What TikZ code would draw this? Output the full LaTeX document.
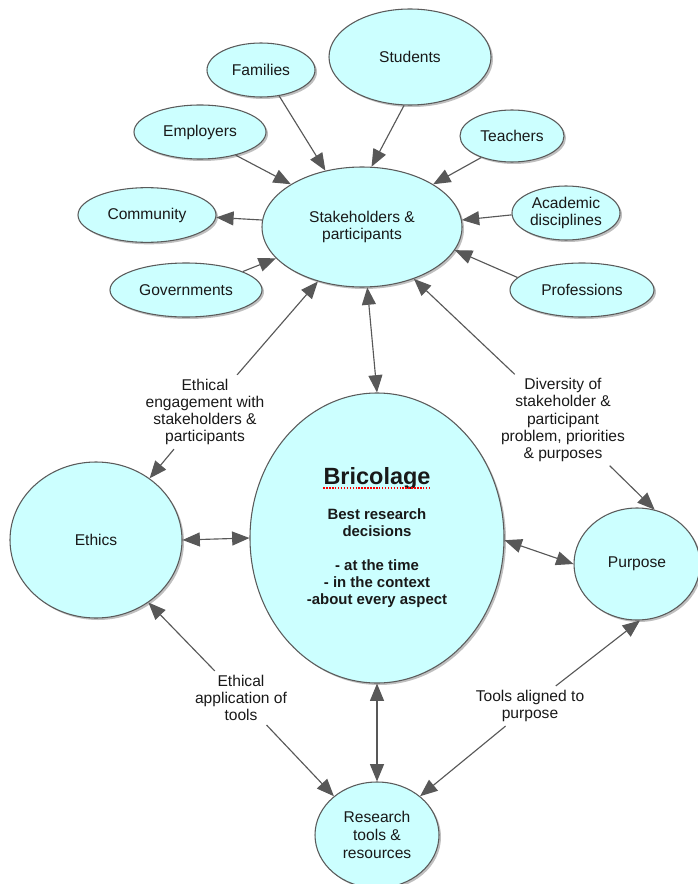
\documentclass[tikz,border=0pt]{standalone}
\usepackage{fontspec}
\setmainfont{Liberation Sans}
\usetikzlibrary{shapes.geometric,arrows.meta,shadows}
\definecolor{conceptfill}{RGB}{204,255,255}
\definecolor{conceptline}{RGB}{90,90,90}
\definecolor{linkcol}{RGB}{88,88,88}
\definecolor{txt}{RGB}{25,25,25}
\begin{document}
\begin{tikzpicture}[x=0.75pt,y=-0.75pt,
  concept/.style={ellipse, draw=conceptline, line width=0.8pt, fill=conceptfill,
    inner sep=0pt, align=center, text=txt, font=\fontsize{11.7}{13.4}\selectfont,
    drop shadow={shadow xshift=1.5pt, shadow yshift=-1.5pt, opacity=0.25, fill=black}},
  linklabel/.style={align=center, inner sep=3pt, text=txt, font=\fontsize{11.7}{12.8}\selectfont},
  conn/.style={draw=linkcol, line width=0.85pt, -{Triangle[length=13pt,width=10.5pt]}},
  conntwo/.style={draw=linkcol, line width=0.85pt, {Triangle[length=13pt,width=10.5pt]}-{Triangle[length=13pt,width=10.5pt]}}
]
\useasboundingbox (0,0) rectangle (698,884);

% concepts
\node[concept, minimum width=121.5pt, minimum height=72pt] (stu) at (410,57) {Students};
\node[concept, minimum width=81pt, minimum height=40.5pt] (fam) at (261,70) {Families};
\node[concept, minimum width=99pt, minimum height=40.5pt] (emp) at (200,132) {Employers};
\node[concept, minimum width=78pt, minimum height=39pt] (tea) at (512,136) {Teachers};
\node[concept, minimum width=103.5pt, minimum height=41pt] (com) at (147,215) {Community};
\node[concept, minimum width=150pt, minimum height=90pt] (stk) at (362,227) {Stakeholders \&\\participants};
\node[concept, minimum width=81pt, minimum height=40.5pt] (aca) at (566,213) {Academic\\disciplines};
\node[concept, minimum width=114pt, minimum height=40.5pt] (gov) at (186,290) {Governments};
\node[concept, minimum width=108pt, minimum height=40.5pt] (pro) at (582,290) {Professions};
\node[concept, minimum width=129pt, minimum height=117pt] (eth) at (96,540) {Ethics};
\node[concept, minimum width=190.5pt, minimum height=217.5pt] (bri) at (377,538) {};
\node[concept, minimum width=94.5pt, minimum height=84pt] (pur) at (637,564) {Purpose};
\node[concept, minimum width=93pt, minimum height=79.5pt] (res) at (377,835) {Research\\tools \&\\resources};

% Bricolage text
\node[inner sep=0pt, text=txt, font=\fontsize{17.6}{20}\selectfont\bfseries] (britxt) at (377,478) {Bricolage};
\draw[red, line width=1.4pt, dash pattern=on 1.1pt off 1.1pt]
  ([yshift=-3.2pt]britxt.base west) -- ([yshift=-3.2pt]britxt.base east);
\node[inner sep=0pt, align=center, text=txt, font=\fontsize{11.2}{12.75}\selectfont\bfseries] (bribody) at (377,558)
  {Best research\\decisions\\[12.75pt]- at the time\\- in the context\\-about every aspect};

% linking phrases
\node[linklabel] (lab1) at (205,412) {Ethical\\engagement with\\stakeholders \&\\participants};
\node[linklabel] (lab2) at (563,420) {Diversity of\\stakeholder \&\\participant\\problem, priorities\\\& purposes};
\node[linklabel] (lab3) at (241,698) {Ethical\\application of\\tools};
\node[linklabel] (lab4) at (530,706) {Tools aligned to\\purpose};

% connectors around stakeholders
\draw[conn] (fam.-55) -- (stk.123);
\draw[conn] (stu.-97) -- (stk.81);
\draw[conn] (emp.-33) -- (stk.149);
\draw[conn] (tea.215) -- (stk.31.5);
\draw[conn] (stk.176) -- (com.-2);
\draw[conn] (aca.182) -- (stk.4);
\draw[conn] (gov.18) -- (stk.200);
\draw[conn] (pro.169) -- (stk.-14);
\draw[conntwo] (stk.-85) -- (bri.90);

% linking phrase connectors
\draw[conn] (lab1) -- (stk.231);
\draw[conn] (lab1) -- (eth.49);
\draw[conn] (lab2) -- (stk.-45);
\draw[conn] (lab2) -- (pur.72);
\draw[conn] (lab3) -- (eth.-50);
\draw[conn] (lab3) -- (res.138);
\draw[conn] (lab4) -- (pur.-87);
\draw[conn] (lab4) -- (res.42);

% Bricolage links
\draw[conntwo] (eth.0) -- (bri.180);
\draw[conntwo] (bri.-1) -- (pur.180);
\draw[conntwo] (bri.-90) -- (res.90);
\end{tikzpicture}
\end{document}
